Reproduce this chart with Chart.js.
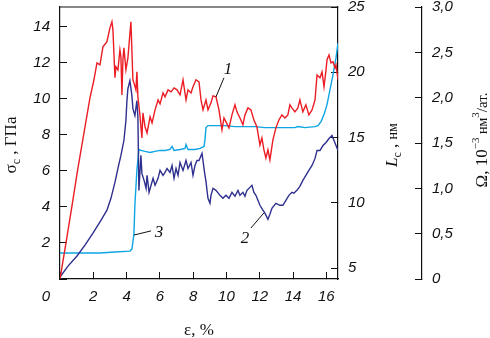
<!DOCTYPE html>
<html>
<head>
<meta charset="utf-8">
<script src="https://cdn.jsdelivr.net/npm/chart.js@4.4.0/dist/chart.umd.min.js"></script>
<style>
  html, body { margin: 0; padding: 0; background: #fff; }
  canvas { display: block; }
</style>
</head>
<body>
<canvas id="myChart" width="490" height="338"></canvas>
<script>
// curve 1 - sigma_c, GPa (left axis)
const strainSigma = [0,0.36,0.72,1.08,1.44,1.80,2.04,2.22,2.40,2.58,2.82,3.00,3.12,3.18,3.30,3.36,3.48,3.60,3.66,3.72,3.78,3.84,3.96,4.08,4.26,4.38,4.44,4.56,4.62,4.68,4.80,4.92,4.98,5.11,5.23,5.41,5.53,5.71,5.89,6.01,6.19,6.31,6.49,6.67,6.85,7.03,7.21,7.39,7.57,7.69,7.87,7.99,8.17,8.35,8.47,8.59,8.77,8.89,9.07,9.19,9.37,9.55,9.73,9.85,9.97,10.15,10.33,10.51,10.63,10.81,10.99,11.11,11.29,11.47,11.65,11.83,12.01,12.13,12.25,12.37,12.49,12.61,12.79,12.97,13.15,13.33,13.51,13.69,13.81,13.93,14.11,14.29,14.41,14.59,14.77,14.95,15.14,15.32,15.44,15.62,15.74,15.86,15.98,16.04,16.16,16.28,16.40,16.52,16.58,16.70];
const sigma = [0,2.00,4.06,6.17,8.11,10.06,11.06,12.00,11.89,12.89,13.17,13.94,14.28,13.83,11.17,11.78,11.61,12.72,12.33,10.22,12.17,12.83,11.61,12.28,14.28,11.06,10.89,10.50,11.50,10.11,9.11,7.83,9.22,8.44,8.11,9.00,8.67,9.39,9.94,9.72,10.33,10.11,10.50,10.39,10.61,10.50,10.22,11.06,9.94,10.50,10.33,10.67,11.06,10.94,9.94,9.39,9.94,9.39,9.78,10.17,10.11,9.39,8.28,8.94,8.72,8.39,9.11,9.67,9.28,8.94,8.56,9.11,9.50,9.39,8.83,8.44,7.44,7.83,7.17,6.72,7.17,6.61,7.72,8.39,8.83,9.11,8.94,9.11,9.67,9.50,9.28,9.50,9.94,9.28,9.67,9.11,9.39,9.94,11.33,11.17,11.50,10.67,11.61,12.17,12.44,12.00,12.06,11.72,11.89,11.06];

// curve 2 - L_c, nm (first right axis)
const strainL = [0,0.48,1.02,1.50,1.98,2.46,2.82,3.06,3.30,3.48,3.66,3.84,3.96,4.02,4.08,4.20,4.32,4.38,4.50,4.62,4.68,4.74,4.80,4.86,4.92,5.05,5.17,5.23,5.35,5.47,5.59,5.71,5.89,6.01,6.19,6.31,6.43,6.61,6.73,6.85,6.97,7.09,7.21,7.39,7.57,7.69,7.87,7.99,8.11,8.23,8.35,8.53,8.59,8.65,8.71,8.77,8.83,8.89,9.01,9.07,9.19,9.37,9.61,9.79,9.97,10.15,10.33,10.51,10.69,10.81,10.99,11.11,11.23,11.41,11.53,11.65,11.77,11.89,12.01,12.19,12.31,12.49,12.61,12.73,12.97,13.21,13.39,13.57,13.75,13.93,14.05,14.23,14.41,14.59,14.77,14.95,15.14,15.32,15.44,15.62,15.80,15.98,16.16,16.34,16.46,16.58,16.70];
const lengthL = [4.31,5.15,5.92,6.76,7.67,8.66,9.43,10.34,11.56,12.63,13.63,14.77,16.30,17.82,18.74,19.35,18.21,17.21,16.68,17.82,16.53,10.95,12.33,13.63,12.25,11.72,11.11,12.10,10.80,11.34,11.87,11.34,11.87,12.48,12.10,12.33,12.63,12.33,12.86,11.87,12.63,12.10,13.09,12.48,13.24,12.63,13.09,12.10,12.86,13.24,13.24,13.78,13.24,12.63,12.10,11.64,10.95,10.34,9.96,10.57,11.11,10.95,10.57,10.34,10.57,10.34,10.80,10.50,10.95,10.57,10.80,10.50,10.95,11.18,11.34,10.80,10.57,10.19,9.81,9.43,9.20,8.74,9.12,9.58,9.96,9.81,9.81,10.19,10.57,10.80,10.73,10.95,11.26,11.72,12.10,12.48,12.86,13.40,14.01,14.01,14.39,14.62,14.92,15.15,14.77,14.39,14.01];

// curve 3 - Omega, 10^-3 nm^3/at. (outer right axis)
const strainOmega = [0,1.20,2.40,3.30,4.20,4.32,4.44,4.50,4.62,4.74,4.86,5.11,5.41,5.71,6.01,6.31,6.61,6.73,6.85,7.21,7.51,7.57,7.69,8.11,8.41,8.65,8.71,8.77,8.89,9.31,9.91,10.51,11.11,11.71,12.31,12.91,13.51,14.11,14.29,14.71,15.32,15.50,15.68,15.86,16.04,16.22,16.40,16.58,16.70];
const omega = [0.286,0.286,0.286,0.297,0.308,0.330,0.495,0.824,1.198,1.429,1.418,1.407,1.396,1.407,1.418,1.418,1.429,1.462,1.418,1.429,1.440,1.484,1.429,1.429,1.440,1.462,1.538,1.670,1.692,1.692,1.692,1.681,1.681,1.681,1.670,1.670,1.670,1.670,1.681,1.670,1.681,1.692,1.736,1.813,1.923,2.088,2.253,2.440,2.604];

const xTicks = [0, 2, 4, 6, 8, 10, 12, 14, 16];
const sigmaTicks = [0, 2, 4, 6, 8, 10, 12, 14];
const lTicks = [5, 10, 15, 20, 25];
const omegaTicks = [0, 0.5, 1, 1.5, 2, 2.5, 3];

const serif = '"Liberation Serif", "Times New Roman", serif';
const sans = '"Liberation Sans", Arial, sans-serif';
const tickFont = {family: sans, size: 15, style: 'italic'};

function pts(xs, ys) {
  return xs.map((x, i) => ({x: x, y: ys[i]}));
}

function setTicks(list) {
  return scale => { scale.ticks = list.map(v => ({value: v})); };
}

// draws a run of text pieces (sub/superscripts) centred on x,y, optionally turned 90deg
function drawRuns(ctx, x, y, runs, rotate) {
  ctx.save();
  ctx.translate(x, y);
  if (rotate) ctx.rotate(-Math.PI / 2);
  let total = 0;
  runs.forEach(r => { ctx.font = r.font; r.w = ctx.measureText(r.t).width; total += r.w; });
  let cx = -total / 2;
  ctx.textAlign = 'left';
  ctx.textBaseline = 'alphabetic';
  runs.forEach(r => { ctx.font = r.font; ctx.fillText(r.t, cx, r.dy || 0); cx += r.w; });
  ctx.restore();
}

const callouts = [
  {text: '1', at: [10.09, 11.61], from: [9.37, 10.11], to: [9.85, 11.17]},
  {text: '2', at: [11.11, 2.22], from: [12.25, 3.67], to: [11.47, 2.83]},
  {text: '3', at: [5.95, 2.56], from: [4.44, 2.44], to: [5.47, 2.67]}
];

const decor = {
  id: 'decor',
  afterDraw(chart) {
    const ctx = chart.ctx;
    const a = chart.chartArea;
    const sx = chart.scales.x, sy = chart.scales.y;
    ctx.save();
    ctx.strokeStyle = '#111';
    ctx.lineWidth = 1.2;
    ctx.beginPath();
    ctx.moveTo(a.left, a.top);
    ctx.lineTo(a.right, a.top);
    ctx.stroke();

    ctx.fillStyle = '#111';
    ctx.lineWidth = 1;
    callouts.forEach(c => {
      ctx.beginPath();
      ctx.moveTo(sx.getPixelForValue(c.from[0]), sy.getPixelForValue(c.from[1]));
      ctx.lineTo(sx.getPixelForValue(c.to[0]), sy.getPixelForValue(c.to[1]));
      ctx.stroke();
      ctx.font = 'italic 17px ' + serif;
      ctx.textAlign = 'center';
      ctx.textBaseline = 'middle';
      ctx.fillText(c.text, sx.getPixelForValue(c.at[0]), sy.getPixelForValue(c.at[1]));
    });

    // corner zero
    ctx.font = 'italic 15px ' + sans;
    ctx.textAlign = 'center';
    ctx.textBaseline = 'middle';
    ctx.fillText('0', a.left - 14, a.bottom + 18);

    const big = '17px ' + serif;
    const small = '12px ' + serif;
    drawRuns(ctx, 16, 145, [
      {t: 'σ', font: big}, {t: 'c', font: small, dy: 4}, {t: ' , ГПа', font: big}
    ], true);
    drawRuns(ctx, 397, 145, [
      {t: 'L', font: 'italic 17px ' + serif}, {t: 'c', font: small, dy: 4},
      {t: ' , ', font: big}, {t: 'нм', font: '14px ' + serif}
    ], true);
    drawRuns(ctx, 487, 140, [
      {t: 'Ω, 10', font: big}, {t: '−3', font: '11px ' + serif, dy: -8},
      {t: ' нм', font: '14px ' + serif}, {t: '3', font: '11px ' + serif, dy: -8},
      {t: '/ат.', font: '15px ' + serif}
    ], true);
    drawRuns(ctx, (a.left + a.right) / 2, 335, [{t: 'ε, %', font: big}], false);
    ctx.restore();
  }
};

const axisGrid = {drawOnChartArea: false, tickLength: -7, color: '#111', lineWidth: 1};
const axisBorder = {color: '#111', width: 1.2};

const config = {
  type: 'line',
  data: {
    datasets: [
      {label: '1', data: pts(strainSigma, sigma), yAxisID: 'y', borderColor: '#ec1c24', borderWidth: 1.4},
      {label: '2', data: pts(strainL, lengthL), yAxisID: 'yL', borderColor: '#2e2f8e', borderWidth: 1.4},
      {label: '3', data: pts(strainOmega, omega), yAxisID: 'yO', borderColor: '#0ea5e4', borderWidth: 1.4}
    ]
  },
  options: {
    responsive: false,
    animation: false,
    layout: {padding: {top: 7, left: 0, right: 0, bottom: 0}},
    elements: {point: {radius: 0}, line: {tension: 0}},
    plugins: {legend: {display: false}, tooltip: {enabled: false}},
    scales: {
      x: {
        type: 'linear', position: 'bottom', min: 0, max: 16.7,
        afterBuildTicks: setTicks(xTicks),
        afterFit: s => { s.height = 59; s.paddingLeft = 0; s.paddingRight = 0; },
        grid: axisGrid, border: axisBorder,
        ticks: {font: tickFont, color: '#111', padding: 16, maxRotation: 0,
          callback: v => v === 0 ? '' : String(v)}
      },
      y: {
        type: 'linear', position: 'left', min: 0, max: 15.1,
        afterBuildTicks: setTicks(sigmaTicks),
        afterFit: s => { s.width = 60; s.paddingTop = 0; s.paddingBottom = 0; },
        grid: axisGrid, border: axisBorder,
        ticks: {font: tickFont, color: '#111', padding: 17,
          callback: v => v === 0 ? '' : String(v)}
      },
      yL: {
        type: 'linear', position: 'right', weight: 0, min: 4.16, max: 25,
        afterBuildTicks: setTicks(lTicks),
        afterFit: s => { s.width = 84; s.paddingTop = 0; s.paddingBottom = 0; },
        grid: axisGrid, border: axisBorder,
        ticks: {font: tickFont, color: '#111', padding: 17}
      },
      yO: {
        type: 'linear', position: 'right', weight: 1, min: 0, max: 3,
        afterBuildTicks: setTicks(omegaTicks),
        afterFit: s => { s.width = 68; s.paddingTop = 0; s.paddingBottom = 0; },
        grid: axisGrid, border: axisBorder,
        ticks: {font: tickFont, color: '#111', padding: 17,
          callback: v => v === 0 ? '0' : v.toFixed(1).replace('.', ',')}
      }
    }
  },
  plugins: [decor]
};

var ctx = document.getElementById('myChart').getContext('2d');
var myChart = new Chart(ctx, config);
</script>
</body>
</html>
